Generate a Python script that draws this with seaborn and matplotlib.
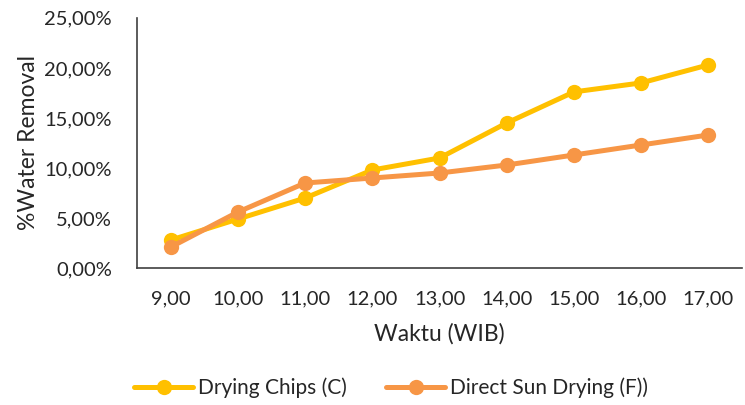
import matplotlib
matplotlib.use("Agg")
import matplotlib.pyplot as plt
import pandas as pd
import seaborn as sns
from matplotlib.ticker import FuncFormatter, MultipleLocator

waktu = ["9,00", "10,00", "11,00", "12,00", "13,00", "14,00", "15,00", "16,00", "17,00"]
drying_chips = [2.8, 4.9, 7.0, 9.8, 11.0, 14.5, 17.6, 18.5, 20.3]
direct_sun = [2.1, 5.6, 8.5, 9.0, 9.5, 10.3, 11.3, 12.3, 13.3]
series_names = ["Drying Chips (C)", "Direct Sun Drying (F))"]
colors = ["#FFC000", "#F79646"]

sns.set_style("white")
plt.rcParams["font.family"] = ["Lato", "DejaVu Sans"]

rows = []
for name, vals in zip(series_names, [drying_chips, direct_sun]):
    for i, (w, v) in enumerate(zip(waktu, vals)):
        rows.append({"pos": i, "Waktu": w, "val": v, "series": name})
data = pd.DataFrame(rows)

fig = plt.figure(figsize=(7.45, 4.05), dpi=100)
ax = fig.add_axes([0.184, 0.338, 0.812, 0.618])

sns.lineplot(data=data, x="pos", y="val", hue="series", palette=colors,
             marker="o", markersize=11, markeredgewidth=0, linewidth=3.6,
             ax=ax, legend=False)

ax.set_xlim(-0.5, len(waktu) - 0.5)
ax.set_ylim(0, 25)
ax.set_xticks(range(len(waktu)))
ax.set_xticklabels(waktu)
ax.yaxis.set_major_locator(MultipleLocator(5))
ax.yaxis.set_major_formatter(FuncFormatter(lambda v, p: f"{v:.2f}%".replace(".", ",")))
ax.tick_params(axis="both", labelsize=14.5, length=0)
ax.tick_params(axis="x", pad=16)
ax.tick_params(axis="y", pad=18)
ax.set_xlabel("Waktu (WIB)", fontsize=16.5, labelpad=11)
ax.set_ylabel("%Water Removal", fontsize=16.5, labelpad=4)

sns.despine(ax=ax)
for s in ["left", "bottom"]:
    ax.spines[s].set_color("#404040")
    ax.spines[s].set_linewidth(1.2)

handles = [plt.Line2D([], [], color=c, marker="o", markersize=11, linewidth=3.6,
                      markeredgewidth=0) for c in colors]
fig.legend(handles, series_names, loc="center", bbox_to_anchor=(0.525, 0.042),
           ncol=2, frameon=False, fontsize=15, handlelength=2.8,
           handletextpad=0.25, columnspacing=1.9)

fig.savefig("out.png", dpi=100)
